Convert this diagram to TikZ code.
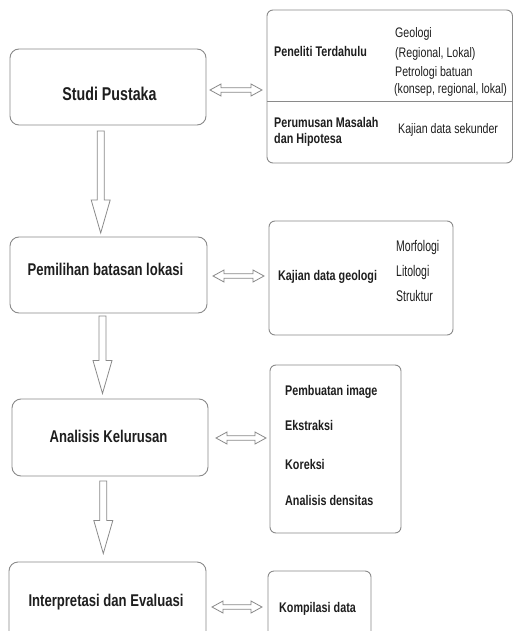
\documentclass[tikz,border=0pt]{standalone}
\usepackage{fontspec}
\setmainfont{Liberation Sans}
\newfontfamily\nf[FakeStretch=0.77]{Liberation Sans}
\newfontfamily\cf[FakeStretch=0.68]{Liberation Sans}
\usetikzlibrary{calc}
\definecolor{edge}{HTML}{8A8A8A}
\definecolor{ink}{HTML}{1E1E1E}
\tikzset{
  mainbox/.style={draw=edge, line width=0.9pt, rounded corners=9pt, inner sep=0pt, outer sep=0pt},
  sidebox/.style={draw=edge, line width=0.9pt, rounded corners=6pt, inner sep=0pt, outer sep=0pt},
  ttl/.style={anchor=base, inner sep=0pt, text=ink, font=\nf\bfseries\fontsize{17}{20}\selectfont},
  itemb/.style={anchor=base west, inner sep=0pt, text=ink, font=\nf\bfseries\fontsize{14}{16}\selectfont},
  itemr/.style={anchor=base west, inner sep=0pt, text=ink, font=\nf\fontsize{13.8}{16}\selectfont},
  itemc/.style={anchor=base west, inner sep=0pt, text=ink, font=\cf\fontsize{15.4}{18}\selectfont},
  blk/.style={draw=edge, line width=0.8pt, fill=white, line join=miter},
  divline/.style={draw=edge, line width=0.9pt}
}
\newcommand\dblarr[2]{\draw[blk] let \p1=(#1), \p2=(#2) in
  (\x1,\y1) -- (\x1+11pt,\y1+6pt) -- (\x1+11pt,\y1+2.2pt) -- (\x2-11pt,\y2+2.2pt) -- (\x2-11pt,\y2+6pt)
  -- (\x2,\y2) -- (\x2-11pt,\y2-6pt) -- (\x2-11pt,\y2-2.2pt) -- (\x1+11pt,\y1-2.2pt) -- (\x1+11pt,\y1-6pt) -- cycle;}
\newcommand\downarr[2]{\draw[blk] let \p1=(#1), \p2=(#2) in
  (\x1-3.5pt,\y1) -- (\x1+3.5pt,\y1) -- (\x2+3.5pt,\y2+33pt) -- (\x2+9.5pt,\y2+33pt) -- (\x2,\y2)
  -- (\x2-9.5pt,\y2+33pt) -- (\x2-3.5pt,\y2+33pt) -- cycle;}
\begin{document}
\begin{tikzpicture}[x=1pt, y=-1pt]
\useasboundingbox (0,0) rectangle (513,631);
\clip (0,0) rectangle (513,631);
\fill[white] (0,0) rectangle (513,631);

% main boxes
\node[mainbox, minimum width=196pt, minimum height=76pt] (b1) at (108,87) {};
\node[mainbox, minimum width=197pt, minimum height=76pt] (b2) at (108.5,275) {};
\node[mainbox, minimum width=196pt, minimum height=77pt] (b3) at (110,437.5) {};
\node[mainbox, minimum width=197pt, minimum height=100pt] (b4) at (107.5,612) {};

\node[ttl, font=\nf\bfseries\fontsize{18.5}{22}\selectfont] (t1) at (109.5,100.7) {Studi Pustaka};
\node[ttl] (t2) at (105.5,275.7) {Pemilihan batasan lokasi};
\node[ttl] (t3) at (108.5,442.3) {Analisis Kelurusan};
\node[ttl] (t4) at (106,606) {Interpretasi dan Evaluasi};

% side boxes
\node[sidebox, minimum width=245.5pt, minimum height=153pt] (r1) at (389.75,86.5) {};
\coordinate (dv) at (0,101);
\draw[divline] (r1.west |- dv) -- (r1.east |- dv);
\node[itemb] (p1) at (274,57) {Peneliti Terdahulu};
\node[itemr] (g1) at (395,37.5) {Geologi};
\node[itemr] (g2) at (395,57.3) {(Regional, Lokal)};
\node[itemr] (g3) at (395,76.5) {Petrologi batuan};
\node[itemr] (g4) at (394,93.5) {(konsep, regional, lokal)};
\node[itemb] (p2) at (274,128) {Perumusan Masalah};
\node[itemb] (p3) at (274,144) {dan Hipotesa};
\node[itemr] (k1) at (398,134) {Kajian data sekunder};

\node[sidebox, minimum width=184pt, minimum height=114pt] (r2) at (361,278) {};
\node[itemb] (k2) at (278,280.7) {Kajian data geologi};
\node[itemc] (m1) at (396,251.7) {Morfologi};
\node[itemc] (m2) at (396,276) {Litologi};
\node[itemc] (m3) at (396,301.7) {Struktur};

\node[sidebox, minimum width=131pt, minimum height=168pt] (r3) at (335.5,449) {};
\node[itemb] (a1) at (285,395.7) {Pembuatan image};
\node[itemb] (a2) at (285,430) {Ekstraksi};
\node[itemb] (a3) at (285,469) {Koreksi};
\node[itemb] (a4) at (285,505.7) {Analisis densitas};

\node[sidebox, minimum width=103pt, minimum height=100pt] (r4) at (319.5,621) {};
\node[itemb] (c1) at (279,612.3) {Kompilasi data};

% double arrows
\coordinate (h1a) at (210,90);  \coordinate (h1b) at (262,90);
\coordinate (h2a) at (213,276); \coordinate (h2b) at (264,276);
\coordinate (h3a) at (216,438); \coordinate (h3b) at (266,438);
\coordinate (h4a) at (212,607); \coordinate (h4b) at (262,607);
\dblarr{h1a}{h1b}
\dblarr{h2a}{h2b}
\dblarr{h3a}{h3b}
\dblarr{h4a}{h4b}

% down arrows
\coordinate (v1a) at (100.7,131); \coordinate (v1b) at (100.7,233);
\coordinate (v2a) at (102.5,316); \coordinate (v2b) at (102.5,393.5);
\coordinate (v3a) at (103.3,481); \coordinate (v3b) at (103.3,553.5);
\downarr{v1a}{v1b}
\downarr{v2a}{v2b}
\downarr{v3a}{v3b}
\end{tikzpicture}
\end{document}
